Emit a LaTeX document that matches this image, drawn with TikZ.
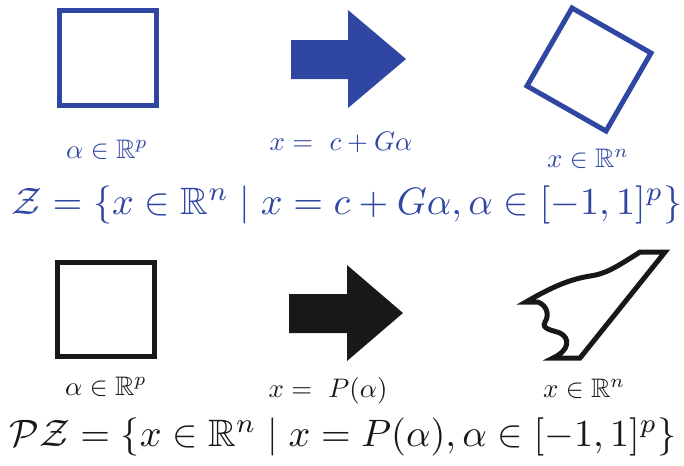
\documentclass[tikz,border=0pt]{standalone}
\usepackage{amsmath}
\usepackage{amssymb}
\usepackage{graphicx}
\usetikzlibrary{calc}

\definecolor{zblue}{RGB}{47,71,163}
\definecolor{zblack}{RGB}{24,24,24}

\newcommand{\lblsize}[1]{\scalebox{0.67}{$#1$}}
\newcommand{\eqnsize}[1]{\scalebox{0.955}{$#1$}}

\begin{document}
\begin{tikzpicture}[x=0.25pt,y=-0.25pt,
    setline/.style={line width=1.25pt, line join=miter},
    lbl/.style={anchor=base, inner sep=0pt},
    eqn/.style={anchor=base, inner sep=0pt}]
            \useasboundingbox (0,0) rectangle (684,465);
            % zonotope row
            \draw[setline, zblue] (59.5,10.5) rectangle (156.5,105.5);
            \fill[zblue] (291,40) -- (348,40) -- (348,10) -- (406,59) -- (348,108) -- (348,79) -- (291,79) -- cycle;
            \draw[setline, zblue] (572,8) -- (651,53) -- (606,131) -- (527,86) -- cycle;
            \node[lbl, text=zblue] (alphaZ) at (107,158) {\lblsize{\alpha\in\mathbb{R}^p}};
            \node[lbl, text=zblue] (mapZ) at (341,150) {\lblsize{x =\ c+G\alpha}};
            \node[lbl, text=zblue] (xZ) at (588,167) {\lblsize{x\in\mathbb{R}^n}};
            \node[eqn, text=zblue] (setZ) at (347,214) {\eqnsize{\mathcal{Z}=\{x\in\mathbb{R}^n \mid x=c+G\alpha, \alpha\in[-1,1]^p\}}};
            % polynomial zonotope row
            \draw[setline, zblack] (57.5,262.5) rectangle (154.5,356.5);
            \fill[zblack] (289,294) -- (347,294) -- (347,265) -- (403,313) -- (347,361) -- (347,333) -- (289,333) -- cycle;
            \draw[setline, zblack] (553,358) -- (580,358) -- (665,252) -- (640,252)
                .. controls (615,268) and (605,274) .. (590,276)
                .. controls (572,279) and (555,285) .. (526,302) -- (538,302)
                .. controls (548,306) and (549,316) .. (545,322)
                .. controls (541,329) and (552,330) .. (560,333)
                .. controls (570,338) and (570,350) .. cycle;
            \node[lbl, text=zblack] (alphaP) at (106,395) {\lblsize{\alpha\in\mathbb{R}^p}};
            \node[lbl, text=zblack] (mapP) at (328,397) {\lblsize{x =\ P(\alpha)}};
            \node[lbl, text=zblack] (xP) at (584,397) {\lblsize{x\in\mathbb{R}^n}};
            \node[eqn, text=zblack] (setP) at (343,446) {\eqnsize{\mathcal{P}\mathcal{Z}=\{x\in\mathbb{R}^n \mid x=P(\alpha), \alpha\in[-1,1]^p\}}};
        \end{tikzpicture}
\end{document}
